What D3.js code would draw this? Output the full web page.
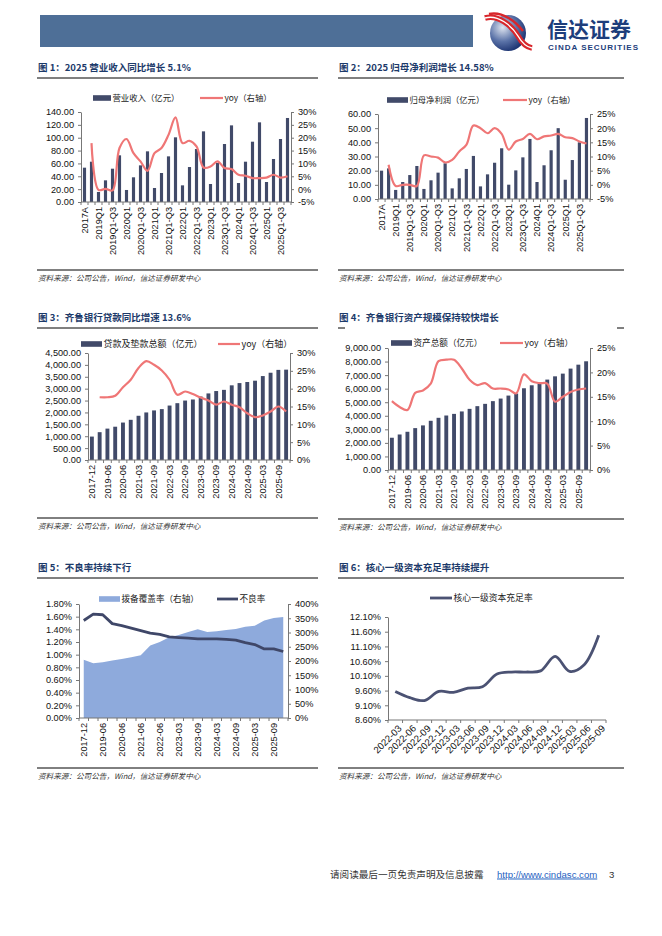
<!DOCTYPE html>
<html><head><meta charset="utf-8">
<script src="https://cdn.jsdelivr.net/npm/d3@7"></script>
<style>
body{margin:0;background:#fff;}
svg text{font-family:"Liberation Sans","Noto Sans CJK SC",sans-serif;}
.cjk{font-family:"Noto Sans CJK SC",sans-serif !important;}
</style></head><body><div id="page"></div>
<script>
// ---- data ----
const qCats = ['2017A','2018A','2019Q1','2019H1','2019Q1-Q3','2019A','2020Q1','2020H1','2020Q1-Q3','2020A',
  '2021Q1','2021H1','2021Q1-Q3','2021A','2022Q1','2022H1','2022Q1-Q3','2022A','2023Q1','2023H1','2023Q1-Q3','2023A',
  '2024Q1','2024H1','2024Q1-Q3','2024A','2025Q1','2025H1','2025Q1-Q3','2025A'];
const revenue = [53.4,62.7,15.6,33.7,51.8,72.6,18.7,38.4,57.0,78.8,21.8,45.1,71.0,100.6,25.9,54.4,82.4,109.9,
  28.0,60.7,90.2,119.2,29.5,62.7,93.8,123.9,31.1,66.9,98.0,130.7];
const revenueYoy = [null,17.9,-0.3,0.1,-0.5,16.0,19.5,14.0,10.8,7.1,14.0,16.0,21.1,27.9,17.9,18.8,16.6,8.4,
  8.8,10.8,8.2,7.8,5.6,5.2,4.3,4.3,4.5,5.6,4.5,5.0];
const profit = [20.0,21.6,6.4,12.0,16.9,23.3,7.1,13.2,18.6,25.2,7.5,14.6,21.2,30.4,8.9,17.4,25.6,35.8,
  10.1,20.2,29.4,42.4,12.0,23.8,34.4,50.0,13.6,27.5,40.0,57.2];
const profitYoy = [null,7.1,-0.4,0.0,0.0,-0.4,10.4,10.0,9.6,7.9,8.8,11.8,14.1,20.9,20.0,18.2,20.0,18.0,
  12.4,15.3,16.2,18.0,16.1,17.1,17.4,18.0,16.8,16.5,15.3,14.58];

const mCats = ['2017-12','2018-12','2019-06','2019-12','2020-06','2020-12','2021-03','2021-06','2021-09','2021-12',
  '2022-03','2022-06','2022-09','2022-12','2023-03','2023-06','2023-09','2023-12','2024-03','2024-06','2024-09',
  '2024-12','2025-03','2025-06','2025-09','2025-12'];
const loans = [985,1170,1320,1400,1575,1690,1860,2000,2085,2140,2290,2390,2500,2545,2670,2800,2900,2950,
  3140,3235,3280,3335,3530,3670,3790,3800];
const loansYoy = [null,17.6,17.6,18.0,20.4,22.5,25.8,27.7,26.7,25.1,22.5,18.3,19.2,18.5,17.5,16.7,15.5,16.4,
  15.5,14.8,13.1,12.0,12.5,13.6,15.0,13.6];
const assets = [2380,2620,2820,3090,3290,3630,3850,4020,4140,4320,4510,4710,4880,5080,5270,5490,5640,6030,
  6250,6380,6670,6910,7110,7480,7770,8020];
const assetsYoy = [14.1,12.9,12.3,15.8,16.3,17.7,22.3,22.6,22.6,20.8,18.5,17.4,17.8,16.7,16.7,16.5,15.7,19.6,
  18.2,17.8,17.7,14.0,15.0,16.0,16.5,16.7];

const nCats = ['2017-12','2018-12','2019-06','2019-12','2020-06','2020-12','2021-06','2021-12','2022-06','2022-12',
  '2023-03','2023-06','2023-09','2023-12','2024-03','2024-06','2024-09','2024-12','2025-03','2025-06','2025-09','2025-12'];
const nplRatio = [1.54,1.64,1.63,1.49,1.46,1.42,1.38,1.34,1.32,1.28,1.27,1.26,1.25,1.25,1.25,1.24,1.23,1.19,1.16,1.09,1.09,1.05];
const coverage = [204,192,196,202,207,213,220,254,267,283,291,302,311,302,304,309,312,320,324,342,351,354];

const cCats = ['2022-03','2022-06','2022-09','2022-12','2023-03','2023-06','2023-09','2023-12','2024-03','2024-06',
  '2024-09','2024-12','2025-03','2025-06','2025-09'];
const cet1 = [9.57,9.36,9.26,9.57,9.54,9.68,9.73,10.16,10.23,10.23,10.27,10.76,10.25,10.48,11.48];

const ticksRev = [0,20,40,60,80,100,120,140];
const ticksRevYoy = [-5,0,5,10,15,20,25,30];
const ticksProfit = [0,10,20,30,40,50,60];
const ticksProfitYoy = [-5,0,5,10,15,20,25];
const ticksLoans = d3.range(0, 4501, 500);
const ticksLoansYoy = [0,5,10,15,20,25,30];
const ticksAssets = d3.range(0, 9001, 1000);
const ticksAssetsYoy = [0,5,10,15,20,25];
const ticksNpl = [0,0.2,0.4,0.6,0.8,1.0,1.2,1.4,1.6,1.8];
const ticksCov = [0,50,100,150,200,250,300,350,400];
const ticksCet1 = [8.6,9.1,9.6,10.1,10.6,11.1,11.6,12.1];

// ---- page ----
const BAR = '#414a69', YOY = '#ef7676', AREA = '#8eaadc', NAVY = '#3f4768', AX = '#777';
const svg = d3.select('#page').append('svg').attr('width', 662).attr('height', 936);

// header bar + logo
svg.append('rect').attr('x', 40).attr('y', 15).attr('width', 433).attr('height', 32).attr('fill', '#4e6f97');
const defs = svg.append('defs');
const rg = defs.append('radialGradient').attr('id', 'lg').attr('cx', '35%').attr('cy', '35%').attr('r', '70%');
rg.append('stop').attr('offset', '0%').attr('stop-color', '#dfe5f0');
rg.append('stop').attr('offset', '55%').attr('stop-color', '#5b73a8');
rg.append('stop').attr('offset', '100%').attr('stop-color', '#1b3270');
svg.append('circle').attr('cx', 508).attr('cy', 33).attr('r', 18).attr('fill', 'url(#lg)');
[5.5, 1.4].forEach((w, k) => {
  svg.append('path').attr('d', 'M485,18 C498,14 512,26 518,36 C522,43 526,47 532,48')
    .attr('fill', 'none').attr('stroke', k ? '#fff' : '#d8262b').attr('stroke-width', w);
});
svg.append('path').attr('d', 'M489,14 C503,11 516,22 523,31')
  .attr('fill', 'none').attr('stroke', '#d8262b').attr('stroke-width', 2.5);
svg.append('text').attr('class', 'cjk').attr('x', 547).attr('y', 37).attr('font-size', 21).attr('font-weight', 700)
  .attr('fill', '#1d3e7c').text('信达证券');
svg.append('text').attr('x', 548).attr('y', 49.5).attr('font-size', 8).attr('font-weight', 700)
  .attr('fill', '#1d3e7c').attr('textLength', 90).text('CINDA SECURITIES');

function frame(x0, x1, yLine, title, ySrc, broken) {
  svg.append('text').attr('class', 'cjk').attr('x', x0 + 1).attr('y', yLine - 7.5).attr('font-size', 9.5)
    .attr('font-weight', 700).attr('fill', '#1c3a6a').text(title);
  if (broken) {
    svg.append('line').attr('x1', x0).attr('x2', x0 + 7).attr('y1', yLine).attr('y2', yLine).attr('stroke', '#000');
    svg.append('line').attr('x1', x1 - 7).attr('x2', x1).attr('y1', yLine).attr('y2', yLine).attr('stroke', '#000');
  } else {
    svg.append('line').attr('x1', x0).attr('x2', x1).attr('y1', yLine).attr('y2', yLine).attr('stroke', '#000').attr('stroke-width', 1);
  }
  svg.append('line').attr('x1', x0).attr('x2', x1).attr('y1', ySrc).attr('y2', ySrc).attr('stroke', '#000').attr('stroke-width', 1);
  svg.append('text').attr('class', 'cjk').attr('x', x0 + 1).attr('y', ySrc + 10.5).attr('font-size', 7.6)
    .attr('font-style', 'italic').attr('fill', '#333').text('资料来源：公司公告，Wind，信达证券研发中心');
}
frame(37, 318, 78, '图 1：2025 营业收入同比增长 5.1%', 270);
frame(338, 624, 78, '图 2：2025 归母净利润增长 14.58%', 270);
frame(37, 318, 328, '图 3：齐鲁银行贷款同比增速 13.6%', 518);
frame(338, 624, 328, '图 4：齐鲁银行资产规模保持较快增长', 519, true);
frame(37, 318, 578, '图 5：不良率持续下行', 768);
frame(338, 624, 578, '图 6：核心一级资本充足率持续提升', 768);

function legendItem(type, x, y, w, label, color, fs) {
  if (type === 'bar') svg.append('rect').attr('x', x).attr('y', y - 2.8).attr('width', w).attr('height', 5.6).attr('fill', color);
  else svg.append('line').attr('x1', x).attr('x2', x + w).attr('y1', y).attr('y2', y)
    .attr('stroke', color).attr('stroke-width', type === 'thick' ? 2.8 : 2.2);
  svg.append('text').attr('class', 'cjk').attr('x', x + w + 1.5).attr('y', y).attr('dy', '0.36em')
    .attr('font-size', fs).attr('fill', '#222').text(label);
}

function styleAxis(a) {
  a.attr('font-size', 9.2);
  a.select('.domain').attr('stroke', AX);
  a.selectAll('.tick line').attr('stroke', AX);
  a.selectAll('.tick text').attr('fill', '#111');
}

function axes(o, x, yl, yr) {
  const g = svg.append('g');
  styleAxis(g.append('g').attr('transform', `translate(${o.x0},0)`)
    .call(d3.axisLeft(yl).tickValues(o.lTicks).tickFormat(o.lFmt).tickSize(3).tickSizeOuter(0).tickPadding(4)));
  if (yr) styleAxis(g.append('g').attr('transform', `translate(${o.x1},0)`)
    .call(d3.axisRight(yr).tickValues(o.rTicks).tickFormat(o.rFmt).tickSize(3).tickSizeOuter(0).tickPadding(4)));
  g.append('line').attr('x1', o.x0).attr('x2', o.x1).attr('y1', o.y1).attr('y2', o.y1).attr('stroke', AX);
  d3.range(o.cats.length + 1).forEach(i => {
    const xx = o.x0 + i * x.step();
    g.append('line').attr('x1', xx).attr('x2', xx).attr('y1', o.y1).attr('y2', o.y1 + 3).attr('stroke', AX);
  });
  o.cats.forEach((c, i) => {
    if (i % o.every) return;
    const cx = x(c) + x.bandwidth() / 2;
    g.append('text').attr('transform', `translate(${cx + (o.rot === -45 ? 3 : 0)},${o.y1 + 5}) rotate(${o.rot})`)
      .attr('text-anchor', 'end').attr('dy', o.rot === -45 ? '0.6em' : '0.35em')
      .attr('font-size', o.xfs || 9.2).attr('fill', '#111').text(c);
  });
}

function combo(o) {
  const x = d3.scaleBand().domain(o.cats).range([o.x0, o.x1]);
  const yl = d3.scaleLinear().domain(d3.extent(o.lTicks)).range([o.y1, o.y0]);
  const yr = d3.scaleLinear().domain(d3.extent(o.rTicks)).range([o.y1, o.y0]);
  const bw = x.step() * o.barFrac;
  const cx = i => x(o.cats[i]) + x.bandwidth() / 2;
  svg.append('g').selectAll('rect').data(o.bars).join('rect')
    .attr('x', (d, i) => cx(i) - bw / 2).attr('width', bw)
    .attr('y', d => yl(d)).attr('height', d => yl(0) - yl(d)).attr('fill', BAR);
  const line = d3.line().defined(d => d != null).x((d, i) => cx(i)).y(d => yr(d))
    .curve(d3.curveCatmullRom.alpha(0.5));
  svg.append('path').datum(o.yoy).attr('d', line).attr('fill', 'none')
    .attr('stroke', YOY).attr('stroke-width', 2.2);
  axes(o, x, yl, yr);
  legendItem('bar', o.leg[0], o.legY, o.leg[1], o.barLabel, BAR, o.lfs);
  legendItem('line', o.leg[2], o.legY, o.leg[3], 'yoy（右轴）', YOY, o.lfs);
}

const f2 = d3.format('.2f'), fc2 = d3.format(',.2f'), pct = d => d + '%';

combo({x0: 81, x1: 291, y0: 112, y1: 202, cats: qCats, bars: revenue, yoy: revenueYoy, barFrac: 0.45,
  lTicks: ticksRev, lFmt: f2, rTicks: ticksRevYoy, rFmt: pct, every: 2, rot: -90,
  leg: [93, 18, 200, 23], legY: 98, barLabel: '营业收入（亿元）', lfs: 8.4});
combo({x0: 378, x1: 590, y0: 114, y1: 199, cats: qCats, bars: profit, yoy: profitYoy, barFrac: 0.45,
  lTicks: ticksProfit, lFmt: f2, rTicks: ticksProfitYoy, rFmt: pct, every: 2, rot: -90,
  leg: [387, 21, 503, 24], legY: 100, barLabel: '归母净利润（亿元）', lfs: 8.3});
combo({x0: 88, x1: 290, y0: 353, y1: 460, cats: mCats, bars: loans, yoy: loansYoy, barFrac: 0.5,
  lTicks: ticksLoans, lFmt: fc2, rTicks: ticksLoansYoy, rFmt: pct, every: 2, rot: -90,
  leg: [81, 21, 218, 22], legY: 344, barLabel: '贷款及垫款总额（亿元）', lfs: 9.0});
combo({x0: 388, x1: 590, y0: 348, y1: 470, cats: mCats, bars: assets, yoy: assetsYoy, barFrac: 0.5,
  lTicks: ticksAssets, lFmt: fc2, rTicks: ticksAssetsYoy, rFmt: pct, every: 2, rot: -90,
  leg: [391, 21, 500, 23], legY: 343, barLabel: '资产总额（亿元）', lfs: 8.6});

// chart 5: NPL + coverage
(function () {
  const o = {x0: 79, x1: 288, y0: 604, y1: 718, cats: nCats, lTicks: ticksNpl, lFmt: d => f2(d) + '%',
    rTicks: ticksCov, rFmt: pct, every: 2, rot: -90};
  const x = d3.scaleBand().domain(o.cats).range([o.x0, o.x1]);
  const yl = d3.scaleLinear().domain([0, 1.8]).range([o.y1, o.y0]);
  const yr = d3.scaleLinear().domain([0, 400]).range([o.y1, o.y0]);
  const cx = i => x(o.cats[i]) + x.bandwidth() / 2;
  svg.append('path').datum(coverage).attr('fill', AREA)
    .attr('d', d3.area().x((d, i) => cx(i)).y0(yr(0)).y1(d => yr(d)));
  svg.append('path').datum(nplRatio).attr('fill', 'none').attr('stroke', NAVY).attr('stroke-width', 2.8)
    .attr('stroke-linejoin', 'round').attr('d', d3.line().x((d, i) => cx(i)).y(d => yl(d)));
  axes(o, x, yl, yr);
  legendItem('bar', 99, 599, 21, '拨备覆盖率（右轴）', AREA, 8.6);
  legendItem('thick', 217, 599, 21, '不良率', NAVY, 8.6);
})();

// chart 6: CET1
(function () {
  const o = {x0: 388, x1: 606, y0: 617, y1: 720, cats: cCats, lTicks: ticksCet1, lFmt: d => f2(d) + '%',
    every: 1, rot: -45, xfs: 9.6};
  const x = d3.scaleBand().domain(o.cats).range([o.x0, o.x1]);
  const yl = d3.scaleLinear().domain([8.6, 12.1]).range([o.y1, o.y0]);
  const cx = i => x(o.cats[i]) + x.bandwidth() / 2;
  svg.append('path').datum(cet1).attr('fill', 'none').attr('stroke', '#4b5273').attr('stroke-width', 2.8)
    .attr('d', d3.line().x((d, i) => cx(i)).y(d => yl(d)).curve(d3.curveCatmullRom.alpha(0.5)));
  axes(o, x, yl, null);
  legendItem('thick', 430, 598, 22, '核心一级资本充足率', '#4b5273', 8.8);
})();

// footer
svg.append('text').attr('class', 'cjk').attr('x', 330).attr('y', 877.5).attr('font-size', 9.6).attr('fill', '#333')
  .text('请阅读最后一页免责声明及信息披露');
svg.append('text').attr('x', 497).attr('y', 877.5).attr('font-size', 9.6).attr('fill', '#1f5fbf')
  .attr('text-decoration', 'underline').text('http://www.cindasc.com');
svg.append('text').attr('x', 609).attr('y', 877.5).attr('font-size', 9.6).attr('fill', '#333').text('3');
</script></body></html>
